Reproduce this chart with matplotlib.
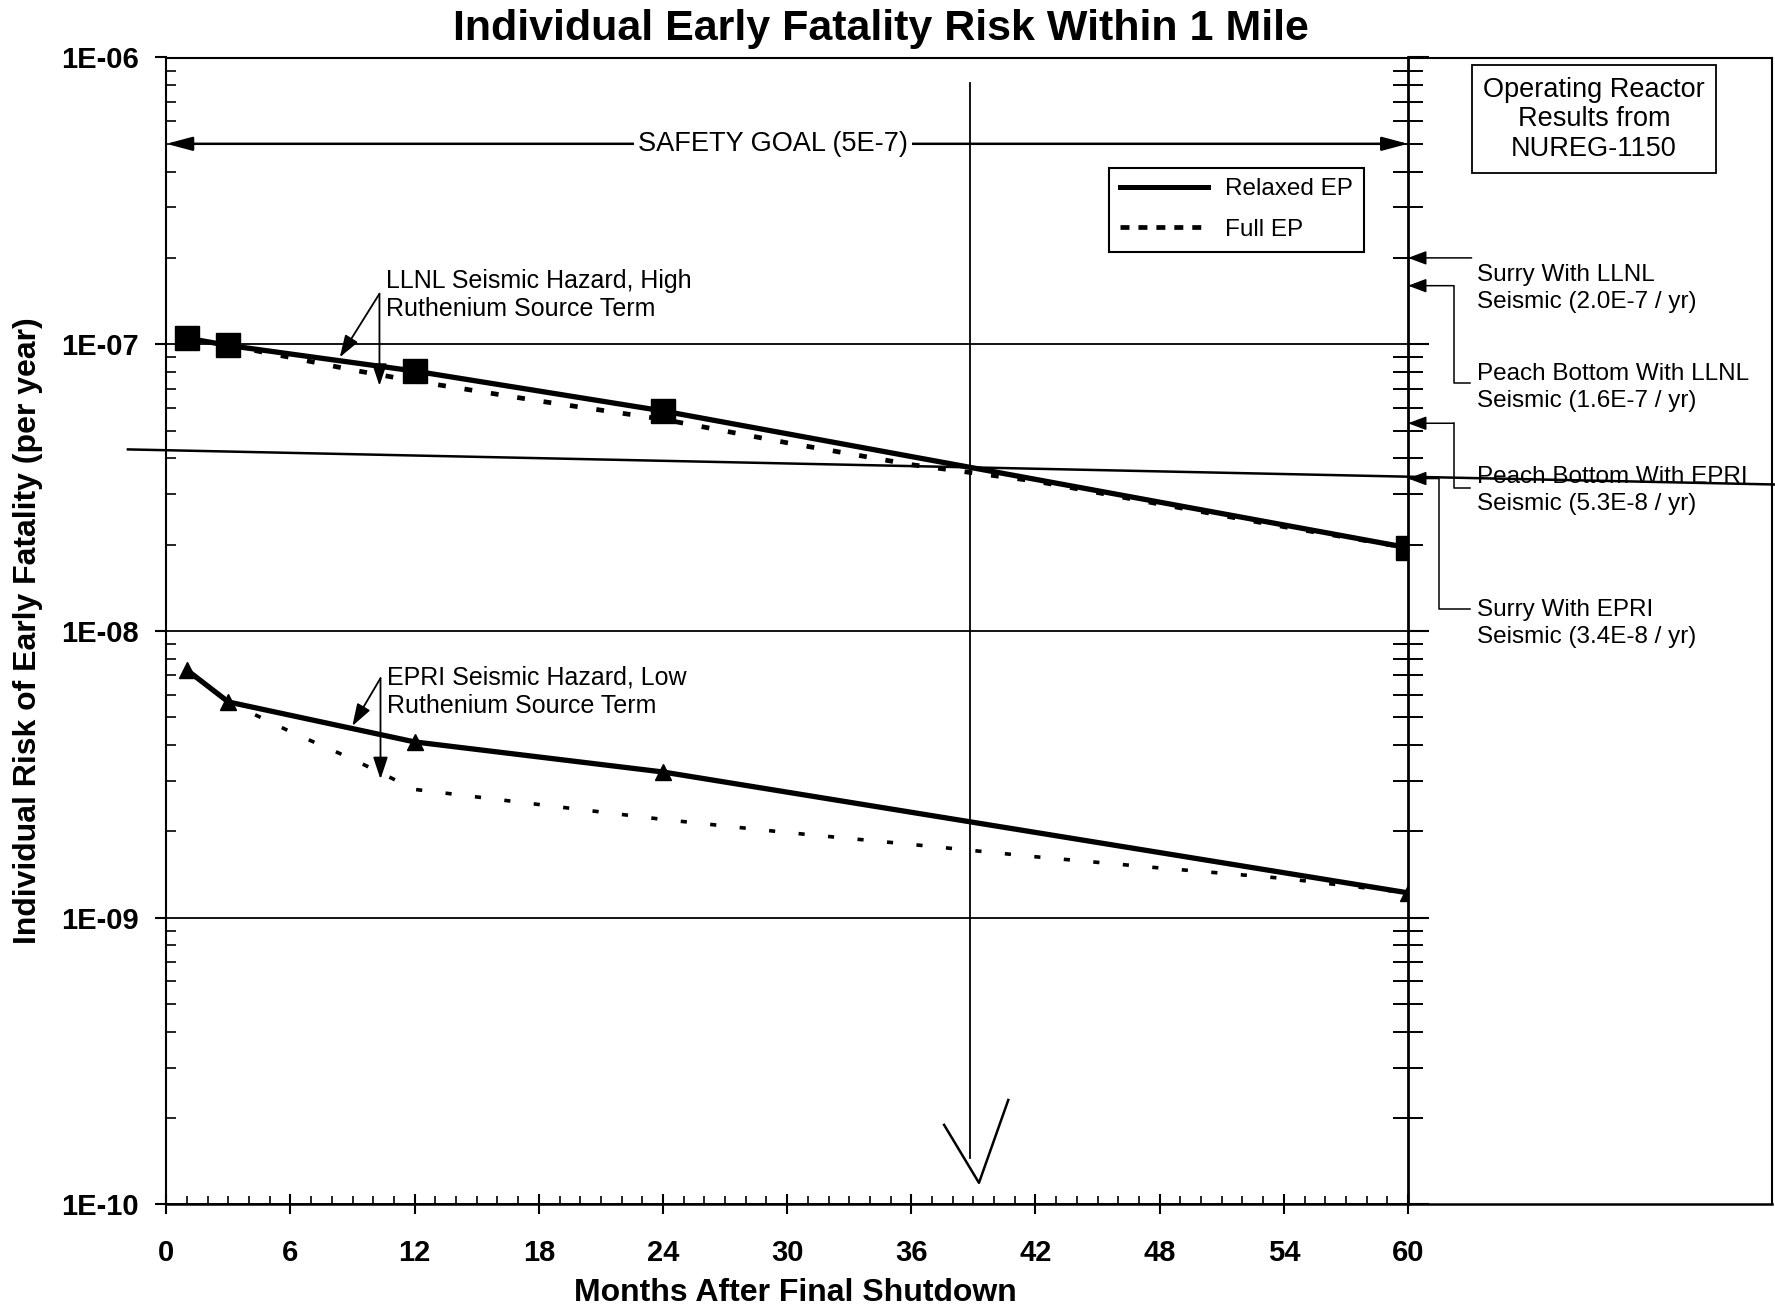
import matplotlib
matplotlib.use("Agg")
import matplotlib.pyplot as plt
import matplotlib.transforms as mtransforms
from matplotlib.lines import Line2D
from matplotlib.ticker import FixedLocator, NullFormatter, LogLocator

plt.rcParams['font.family'] = ['Liberation Sans', 'DejaVu Sans']

# ---------------- data ----------------
months_relaxed = [1, 3, 12, 24, 60]
llnl_relaxed = [1.05e-7, 9.9e-8, 8.06e-8, 5.85e-8, 1.95e-8]
epri_relaxed = [7.3e-9, 5.65e-9, 4.1e-9, 3.22e-9, 1.22e-9]

months_full = [3, 6, 9, 12, 18, 24, 30, 36, 42, 48, 54, 60]
llnl_full = [9.9e-8, 8.99e-8, 8.13e-8, 7.44e-8, 6.34e-8, 5.47e-8,
             4.53e-8, 3.80e-8, 3.33e-8, 2.77e-8, 2.31e-8, 1.95e-8]
epri_full = [5.65e-9, 4.45e-9, 3.57e-9, 2.80e-9, 2.48e-9, 2.20e-9,
             1.98e-9, 1.80e-9, 1.63e-9, 1.49e-9, 1.37e-9, 1.22e-9]

x_ticks = [0, 6, 12, 18, 24, 30, 36, 42, 48, 54, 60]
y_ticks = [1e-10, 1e-9, 1e-8, 1e-7, 1e-6]
y_tick_labels = ['1E-10', '1E-09', '1E-08', '1E-07', '1E-06']

safety_goal = 5e-7
safety_label = 'SAFETY GOAL (5E-7)'
crossover_month = 38.85

ref_values = [2.0e-7, 1.6e-7, 5.3e-8, 3.4e-8]
ref_labels = ['Surry With LLNL\nSeismic (2.0E-7 / yr)',
              'Peach Bottom With LLNL\nSeismic (1.6E-7 / yr)',
              'Peach Bottom With EPRI\nSeismic (5.3E-8 / yr)',
              'Surry With EPRI\nSeismic (3.4E-8 / yr)']

title = 'Individual Early Fatality Risk Within 1 Mile'
xlabel = 'Months After Final Shutdown'
ylabel = 'Individual Risk of Early Fatality (per year)'

# ---------------- layout helpers ----------------
W, H = 1775, 1309
S = 1775 / 1568.0
fig = plt.figure(figsize=(W / 100, H / 100), dpi=100)


def F(xd, yd):
    """reference-display pixel -> figure fraction"""
    return (xd * S / W, 1 - yd * S / H)


ax_l, ax_r = 166.3 / W, 1408.0 / W
ax_t, ax_b = 1 - 57.5 / H, 1 - 1204.3 / H
ax = fig.add_axes([ax_l, ax_b, ax_r - ax_l, ax_t - ax_b])
ax.set_yscale('log')
ax.set_xlim(0, 60)
ax.set_ylim(1e-10, 1e-6)

# ---------------- series ----------------
ax.plot(months_full, llnl_full, color='k', lw=3.4, ls=(0, (1.65, 4.0)), zorder=4)
ax.plot(months_full, epri_full, color='k', lw=2.6, ls=(0, (1.7, 6.5)), zorder=4)
ax.plot(months_relaxed, llnl_relaxed, color='k', lw=3.8, marker='s', ms=17, zorder=5)
ax.plot(months_relaxed, epri_relaxed, color='k', lw=3.8, marker='^', ms=12, zorder=5)

# ---------------- axes styling ----------------
ax.xaxis.set_major_locator(FixedLocator(x_ticks))
ax.xaxis.set_minor_locator(FixedLocator(list(range(0, 61))))
ax.set_xticklabels([str(v) for v in x_ticks], fontweight='bold')
ax.yaxis.set_major_locator(FixedLocator(y_ticks))
ax.set_yticklabels(y_tick_labels)
ax.yaxis.set_minor_locator(LogLocator(base=10, subs=range(2, 10)))
ax.yaxis.set_minor_formatter(NullFormatter())
ax.tick_params(axis='x', which='major', direction='inout', length=14, width=1.5, pad=18, labelsize=21)
ax.tick_params(axis='x', which='minor', direction='in', length=6, width=1.2)
ax.tick_params(axis='y', which='major', direction='out', length=8, width=1.5, pad=12, labelsize=21)
ax.tick_params(axis='y', which='minor', direction='in', length=7, width=1.2)
ax.grid(True, which='major', axis='y', color='k', lw=1.3)
ax.spines['top'].set_visible(False)
ax.spines['left'].set_linewidth(1.5)
ax.spines['bottom'].set_linewidth(1.8)
ax.spines['right'].set_visible(False)

ax2 = ax.twinx()
ax2.set_yscale('log')
ax2.set_ylim(1e-10, 1e-6)
ax2.yaxis.set_major_locator(FixedLocator(y_ticks))
ax2.yaxis.set_minor_locator(LogLocator(base=10, subs=range(2, 10)))
ax2.yaxis.set_minor_formatter(NullFormatter())
ax2.tick_params(axis='y', which='major', direction='out', length=15, width=1.5, labelright=False)
ax2.tick_params(axis='y', which='minor', direction='inout', length=22, width=1.4, labelright=False)
for s in ['left', 'top', 'bottom']:
    ax2.spines[s].set_visible(False)
ax2.spines['right'].set_linewidth(2)

for t in ax.get_yticklabels():
    t.set_fontweight('bold')

ax.set_xlabel(xlabel, fontsize=23, fontweight='bold')
ax.xaxis.set_label_coords(0.507, -0.077)
ax.xaxis.label.set_va('center')
ax.set_ylabel(ylabel, fontsize=23, fontweight='bold')
ax.yaxis.set_label_coords(-0.111, 0.5)
ax.yaxis.label.set_va('center')

fig.text(*F(778, 26), title, fontsize=31, fontweight='bold', ha='center', va='center')

# outer frame extension
x_out = 1565 * S / W
fig.add_artist(Line2D([ax_l, x_out], [ax_t, ax_t], color='k', lw=1.5, transform=fig.transFigure))
fig.add_artist(Line2D([x_out, x_out], [ax_t, ax_b], color='k', lw=1.5, transform=fig.transFigure))
fig.add_artist(Line2D([ax_r, x_out], [ax_b, ax_b], color='k', lw=1.8, transform=fig.transFigure))

# ---------------- safety goal ----------------
ax.annotate('', xy=(0, safety_goal), xytext=(60, safety_goal),
            arrowprops=dict(arrowstyle='<|-|>,head_length=1.05,head_width=0.28', color='k',
                            lw=1.8, shrinkA=0, shrinkB=0, mutation_scale=15), zorder=6)
ax.text(29.3, safety_goal, safety_label, ha='center', va='center', fontsize=19.5,
        bbox=dict(fc='white', ec='none', pad=3), zorder=7)

# ---------------- legend ----------------
handles = [Line2D([], [], color='k', lw=3.6),
           Line2D([], [], color='k', lw=3.4, ls=(0, (1.9, 1.9)))]
leg = fig.legend(handles, ['Relaxed EP', 'Full EP'], loc='upper left',
                 bbox_to_anchor=F(980, 148), bbox_transform=fig.transFigure,
                 fontsize=17.5, handlelength=3.6, handletextpad=0.7, labelspacing=0.75,
                 borderpad=0.45, borderaxespad=0, fancybox=False, framealpha=1,
                 edgecolor='k')
leg.get_frame().set_linewidth(1.5)

# ---------------- annotations for curves ----------------
arrow_kw = dict(arrowstyle='-|>,head_length=0.9,head_width=0.3', color='k', lw=1.3,
                shrinkA=0, shrinkB=0, mutation_scale=15)
llnl_junction = (10.3, 1.50e-7)
ax.annotate('', xy=(8.38, 9.0e-8), xytext=llnl_junction, arrowprops=arrow_kw, zorder=6)
ax.annotate('', xy=(10.3, 7.16e-8), xytext=llnl_junction, arrowprops=arrow_kw, zorder=6)
fig.text(*F(341, 260.6), 'LLNL Seismic Hazard, High\nRuthenium Source Term',
         fontsize=18, ha='left', va='center', linespacing=1.22)

epri_junction = (10.35, 6.84e-9)
ax.annotate('', xy=(8.99, 4.66e-9), xytext=epri_junction, arrowprops=arrow_kw, zorder=6)
ax.annotate('', xy=(10.35, 3.04e-9), xytext=epri_junction, arrowprops=arrow_kw, zorder=6)
fig.text(*F(341.6, 611.3), 'EPRI Seismic Hazard, Low\nRuthenium Source Term',
         fontsize=18, ha='left', va='center', linespacing=1.22)

# crossover vertical line with hand-drawn check
ax.plot([crossover_month, crossover_month], [8.18e-7, 1.45e-10], color='k', lw=1.3, zorder=3)
vx, vy = zip(F(834, 993.7), F(864.8, 1044.9), F(890.7, 971.7))
fig.add_artist(Line2D(vx, vy, color='k', lw=1.8, transform=fig.transFigure))

# hand-drawn sloping line
hx, hy = zip(F(113, 397), F(1568, 428))
fig.add_artist(Line2D(hx, hy, color='k', lw=1.8, transform=fig.transFigure, zorder=8))

# ---------------- operating reactor results ----------------
fig.text(*F(1408, 105.5), 'Operating Reactor\nResults from\nNUREG-1150', fontsize=19.5,
         ha='center', va='center', linespacing=1.18,
         bbox=dict(boxstyle='square,pad=0.42', fc='white', ec='k', lw=1.3))

blend = mtransforms.blended_transform_factory(fig.transFigure, ax.transData)
small_arrow = dict(arrowstyle='-|>,head_length=0.8,head_width=0.3', color='k', lw=1.1,
                   shrinkA=0, shrinkB=0, mutation_scale=14)
text_centers = [254.5, 342.5, 433, 550.5]
elbow_x = [1300, 1284, 1284, 1271]
elbow_y = [None, 338.6, 431.5, 538.3]
for val, lab, yc, ex, ey in zip(ref_values, ref_labels, text_centers, elbow_x, elbow_y):
    fig.text(*F(1305, yc), lab, fontsize=17.5, ha='left', va='center', linespacing=1.3)
    exf = F(ex, 0)[0]
    ax.annotate('', xy=(60, val), xytext=(exf, val), textcoords=blend,
                arrowprops=small_arrow, annotation_clip=False, zorder=6)
    if ey is not None:
        p = ax.transData.transform((60, val))
        vy0 = fig.transFigure.inverted().transform(p)[1]
        eyf = F(0, ey)[1]
        fig.add_artist(Line2D([exf, exf, F(1299, 0)[0]], [vy0, eyf, eyf], color='k', lw=1.1,
                              transform=fig.transFigure))

fig.savefig('out.png', dpi=100)
